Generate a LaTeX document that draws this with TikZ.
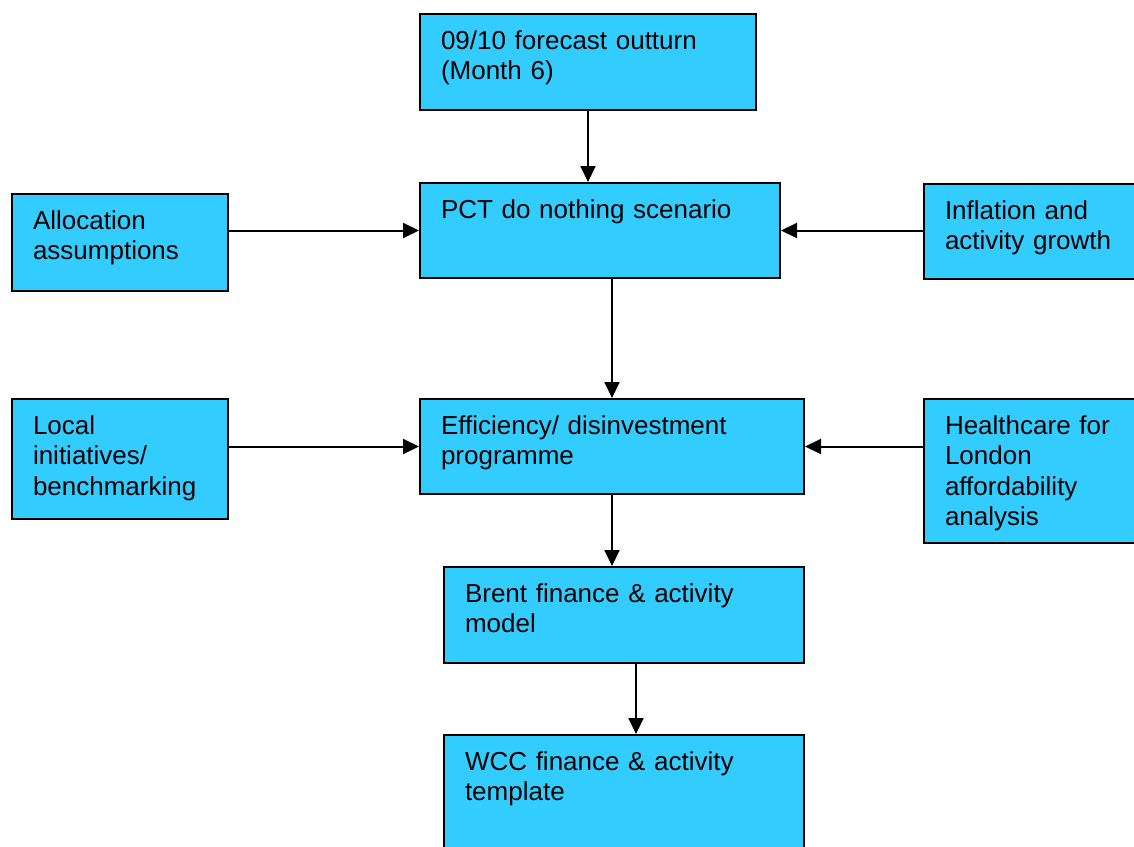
\documentclass[tikz,border=0pt]{standalone}
\usepackage{fontspec}
\setmainfont{Liberation Sans}
\usetikzlibrary{arrows.meta}
\definecolor{boxblue}{HTML}{33CCFF}

\tikzset{
	box/.style={draw=black, line width=2pt, fill=boxblue, anchor=north west, align=left,
		inner xsep=21pt, inner ysep=0pt, text height=35pt, font=\fontsize{26}{30.5}\selectfont},
	link/.style={line width=2pt, arrows={-Triangle[length=16pt,width=15pt]}}
}

\begin{document}
\begin{tikzpicture}[x=1pt, y=-1pt]
	% Frame
	\useasboundingbox (0,0) rectangle (1134,846);
	\clip (0,0) rectangle (1134,846);

	% Boxes
	\node[box, text width=294pt, text depth=61pt] (forecast) at (419,13) {09/10 forecast outturn\\(Month 6)};
	\node[box, text width=318pt, text depth=60pt] (pct) at (419,182) {PCT do nothing scenario};
	\node[box, text width=174pt, text depth=62pt] (alloc) at (11,193) {Allocation\\assumptions};
	\node[box, text width=188pt, text depth=60pt] (inflation) at (923,183) {Inflation and\\activity growth};
	\node[box, text width=174pt, text depth=85pt] (local) at (11,398) {Local\\initiatives/\\benchmarking};
	\node[box, text width=342pt, text depth=60pt] (efficiency) at (419,398) {Efficiency/ disinvestment\\programme};
	\node[box, text width=188pt, text depth=109pt] (hfl) at (923,398) {Healthcare for\\London\\affordability\\analysis};
	\node[box, text width=318pt, text depth=61pt] (brent) at (443,566) {Brent finance \& activity\\model};
	\node[box, text width=318pt, text depth=105pt] (wcc) at (443,734) {WCC finance \& activity\\template};

	% Arrows
	\draw[link] (forecast.south) -- (forecast.south |- pct.north);
	\draw[link] (alloc.east |- pct.west) -- (pct.west);
	\draw[link] (inflation.west |- pct.east) -- (pct.east);
	\draw[link] (pct.south -| efficiency.north) -- (efficiency.north);
	\draw[link] (local.east |- efficiency.west) -- (efficiency.west);
	\draw[link] (hfl.west |- efficiency.east) -- (efficiency.east);
	\draw[link] (efficiency.south) -- (efficiency.south |- brent.north);
	\draw[link] ([xshift=12pt]brent.south) -- ([xshift=12pt]wcc.north);

\end{tikzpicture}
\end{document}
